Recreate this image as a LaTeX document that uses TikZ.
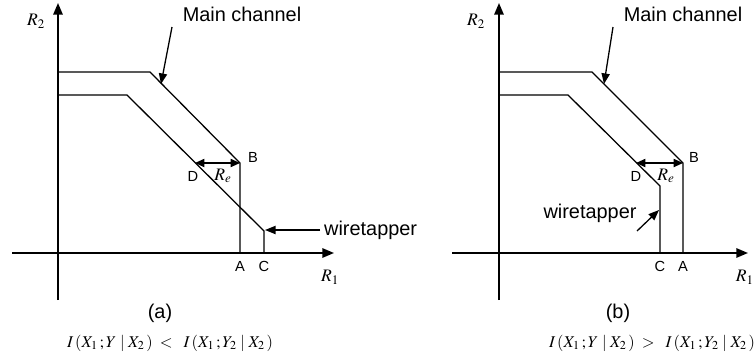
\documentclass[tikz,border=0pt]{standalone}
\usepackage{mathptmx}
\usepackage{fontspec}
\setsansfont{Liberation Sans}
\usetikzlibrary{arrows.meta, positioning}

\begin{document}
\begin{tikzpicture}[x=0.03cm, y=-0.03cm,
  font=\sffamily\fontsize{17}{20}\selectfont,
  axis/.style={line width=1.6pt, -{Triangle[length=10pt, width=8pt]}},
  bound/.style={line width=1.1pt},
  pointer/.style={line width=1.1pt, -{Triangle[length=9pt, width=7pt]}},
  gap/.style={line width=1.1pt, {Triangle[length=8pt, width=7pt]}-{Triangle[length=8pt, width=7pt]}},
  corner/.style={font=\sffamily\fontsize{12.5}{14}\selectfont},
  rate/.style={font=\fontsize{15}{17}\selectfont},
  cond/.style={font=\fontsize{14}{16}\selectfont}]

  \useasboundingbox (0,0) rectangle (755,361);

  % (a): wiretapper region sticks out past the main channel
  \coordinate (ya-bot) at (58,300);
  \coordinate (ya-top) at (58,3);
  \coordinate (xa-left) at (12,253);
  \coordinate (xa-right) at (334,253);
  \draw[axis] (ya-bot) -- (ya-top);
  \draw[axis] (xa-left) -- (xa-right);

  \coordinate (ma-1) at (58,72);
  \coordinate (ma-2) at (150,72);
  \coordinate (Ba) at (240,163);
  \coordinate (Aa) at (240,253);
  \draw[bound] (ma-1) -- (ma-2) -- (Ba) -- (Aa);

  \coordinate (wa-1) at (58,95);
  \coordinate (wa-2) at (127,95);
  \coordinate (wa-3) at (264,231);
  \coordinate (Ca) at (264,253);
  \draw[bound] (wa-1) -- (wa-2) -- (wa-3) -- (Ca);

  \coordinate (Da) at (195,163);
  \draw[gap] (Da) -- (Ba);

  \node[corner] (lbl-Ba) at (253,157) {B};
  \node[corner] (lbl-Da) at (193,176) {D};
  \node[rate] (lbl-Rea) at (223,176) {$R_e$};
  \node[corner] (lbl-Aa) at (240,266) {A};
  \node[corner] (lbl-Ca) at (264,266) {C};
  \node[rate] (lbl-R1a) at (330,277) {$R_1$};
  \node[rate] (lbl-R2a) at (36,21) {$R_2$};

  \node (main-a) at (242,14) {Main channel};
  \coordinate (main-a-tail) at (172,27);
  \coordinate (main-a-tip) at (161,84);
  \draw[pointer] (main-a-tail) -- (main-a-tip);

  \node[anchor=west] (tap-a) at (320,230) {wiretapper};
  \coordinate (tap-a-tip) at (265,230);
  \draw[pointer] (tap-a.west) -- (tap-a-tip);

  \node (cap-a) at (160,313) {(a)};
  \node[cond] (ineq-a) at (170,343) {$I\,(X_1\,;Y\;|\;X_2\,)\;<\;\;I\,(X_1\,;Y_2\;|\;X_2\,)$};

  % (b): main channel region sticks out past the wiretapper
  \coordinate (yb-bot) at (499,300);
  \coordinate (yb-top) at (499,3);
  \coordinate (xb-left) at (452,253);
  \coordinate (xb-right) at (748,253);
  \draw[axis] (yb-bot) -- (yb-top);
  \draw[axis] (xb-left) -- (xb-right);

  \coordinate (mb-1) at (499,72);
  \coordinate (mb-2) at (592,72);
  \coordinate (Bb) at (683,163);
  \coordinate (Ab) at (683,253);
  \draw[bound] (mb-1) -- (mb-2) -- (Bb) -- (Ab);

  \coordinate (wb-1) at (499,95);
  \coordinate (wb-2) at (568,95);
  \coordinate (wb-3) at (660,186);
  \coordinate (Cb) at (660,253);
  \draw[bound] (wb-1) -- (wb-2) -- (wb-3) -- (Cb);

  \coordinate (Db) at (636,163);
  \draw[gap] (Db) -- (Bb);

  \node[corner] (lbl-Bb) at (694,157) {B};
  \node[corner] (lbl-Db) at (636,176) {D};
  \node[rate] (lbl-Reb) at (666,176) {$R_e$};
  \node[corner] (lbl-Ab) at (683,266) {A};
  \node[corner] (lbl-Cb) at (660,266) {C};
  \node[rate, anchor=east, inner sep=1pt] (lbl-R1b) at (755,277) {$R_1$};
  \node[rate] (lbl-R2b) at (476,21) {$R_2$};

  \node (main-b) at (683,14) {Main channel};
  \coordinate (main-b-tail) at (613,27);
  \coordinate (main-b-tip) at (604,84);
  \draw[pointer] (main-b-tail) -- (main-b-tip);

  \node (tap-b) at (590,213) {wiretapper};
  \coordinate (tap-b-tail) at (637,231);
  \coordinate (tap-b-tip) at (659,210);
  \draw[pointer] (tap-b-tail) -- (tap-b-tip);

  \node (cap-b) at (618,313) {(b)};
  \node[cond] (ineq-b) at (652,343) {$I\,(X_1\,;Y\;|\;X_2\,)\;>\;\;I\,(X_1\,;Y_2\;|\;X_2\,)$};
\end{tikzpicture}
\end{document}
